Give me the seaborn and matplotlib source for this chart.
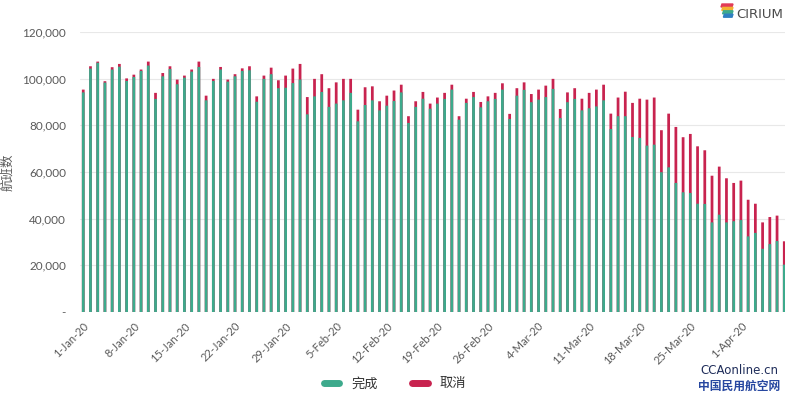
import numpy as np
import pandas as pd
import matplotlib
matplotlib.use("Agg")
import matplotlib.pyplot as plt
import seaborn as sns
from matplotlib.lines import Line2D
from matplotlib.patches import Polygon

# ---- data (thousands of flights per day, 1-Jan-20 .. 7-Apr-20) ----
completed = [94.1, 104.3, 106.8, 98.3, 103.9, 105.1, 99.0, 100.7, 103.3, 105.6,
             91.3, 101.0, 104.1, 97.6, 100.4, 103.0, 105.0, 90.7, 99.0, 103.9,
             98.7, 101.0, 103.3, 103.6, 90.1, 99.9, 101.9, 95.9, 96.1, 98.1,
             99.6, 84.7, 92.4, 94.3, 87.9, 89.3, 90.7, 93.9, 81.7, 88.7,
             90.7, 86.4, 88.4, 90.4, 94.1, 81.0, 87.9, 91.4, 87.1, 89.3,
             91.3, 95.3, 82.4, 89.6, 92.1, 87.7, 90.3, 91.3, 95.3, 82.7,
             92.7, 95.2, 89.9, 91.0, 92.1, 95.6, 83.1, 89.9, 91.3, 86.4,
             87.3, 88.1, 90.7, 78.4, 83.9, 83.9, 75.0, 74.6, 71.3, 71.7,
             59.9, 62.0, 55.3, 51.3, 51.0, 46.4, 46.3, 38.4, 41.7, 38.4,
             38.9, 39.4, 32.4, 33.9, 27.1, 29.1, 30.4, 20.3]
cancelled = [1.2, 1.0, 0.5, 0.6, 1.0, 1.2, 1.1, 1.0, 0.6, 1.7,
             2.6, 1.4, 1.2, 2.0, 0.9, 0.9, 2.3, 2.0, 0.9, 1.1,
             0.9, 0.9, 1.1, 1.7, 2.3, 1.4, 2.8, 3.4, 5.2, 6.2,
             6.7, 7.4, 7.5, 7.6, 8.0, 9.1, 9.2, 6.0, 5.0, 7.6,
             6.0, 3.9, 4.3, 4.5, 3.3, 2.9, 2.4, 2.9, 2.2, 2.6,
             2.6, 2.1, 1.5, 1.8, 2.2, 2.3, 2.1, 2.6, 2.7, 2.2,
             3.2, 3.2, 3.5, 4.3, 4.9, 4.3, 3.9, 4.2, 4.6, 5.0,
             6.6, 7.2, 6.7, 6.6, 8.0, 10.5, 14.6, 16.8, 19.7, 20.2,
             18.0, 23.0, 24.0, 23.6, 25.3, 24.6, 23.0, 20.0, 20.6, 18.9,
             16.4, 16.9, 15.7, 12.5, 11.3, 11.6, 10.9, 10.0]

tick_labels = ["1-Jan-20", "8-Jan-20", "15-Jan-20", "22-Jan-20", "29-Jan-20",
               "5-Feb-20", "12-Feb-20", "19-Feb-20", "26-Feb-20", "4-Mar-20",
               "11-Mar-20", "18-Mar-20", "25-Mar-20", "1-Apr-20"]
yticks = [0, 20000, 40000, 60000, 80000, 100000, 120000]
ytick_labels = ["-", "20,000", "40,000", "60,000", "80,000", "100,000", "120,000"]
series_names = ["完成", "取消"]

GREEN = "#3DAA8C"
RED = "#C8234F"
GRAY = "#595959"

dates = pd.date_range("2020-01-01", periods=len(completed))
day_labels = [f"{d.day}-{d.strftime('%b')}-20" for d in dates]

df = pd.DataFrame({
    "day": day_labels,
    "completed": np.array(completed) * 1000,
    "cancelled": np.array(cancelled) * 1000,
})
df["total"] = df["completed"] + df["cancelled"]

sns.set_theme(style="white")
plt.rcParams["font.family"] = ["Lato", "Noto Sans CJK SC", "DejaVu Sans"]

fig = plt.figure(figsize=(8, 3.95), dpi=100)
ax = fig.add_axes([0.1, 0.2101, 0.88125, 0.709])

sns.barplot(data=df, x="day", y="total", color=RED, width=0.38,
            saturation=1, errorbar=None, linewidth=0, ax=ax)
sns.barplot(data=df, x="day", y="completed", color=GREEN, width=0.38,
            saturation=1, errorbar=None, linewidth=0, ax=ax)
for p in ax.patches:
    p.set_snap(False)

ax.set_xlim(-0.45, 97.1)
ax.set_ylim(0, 120000)
ax.set_yticks(yticks)
ax.set_yticklabels(ytick_labels)
ax.set_xticks([day_labels.index(t) for t in tick_labels])
ax.set_xticklabels(tick_labels, rotation=45, ha="right", rotation_mode="anchor")
ax.tick_params(axis="y", length=0, pad=10, labelsize=8.5, labelcolor=GRAY)
ax.tick_params(axis="x", length=0, pad=6, labelsize=8, labelcolor=GRAY)
ax.yaxis.grid(True, color="#E8E8E8", lw=0.8)
ax.set_axisbelow(True)
for s in ax.spines.values():
    s.set_visible(False)
ax.set_xlabel("")
ax.set_ylabel("航班数", fontsize=9, color=GRAY)
ax.yaxis.set_label_coords(-0.095, 0.5)

handles = [Line2D([0], [0], color=GREEN, lw=5), Line2D([0], [0], color=RED, lw=5)]
fig.legend(handles, series_names, loc="center", bbox_to_anchor=(395 / 800, 1 - 383 / 395),
           ncol=2, frameon=False, handlelength=1.2, columnspacing=2.6,
           handletextpad=0.9, fontsize=9.5, labelcolor="#333333")

# CIRIUM logo
fig.text(736 / 800, 1 - 14 / 395, "CIRIUM", fontsize=9.5, color="#4a4a4a",
         family="DejaVu Sans", va="center", ha="left")
logo_cols = ["#E23B57", "#F2B233", "#3DAA8C", "#2F7FC1"]
for i, c in enumerate(logo_cols):
    y0 = 4 + i * 3.4
    pts = [(722 + i * 0.8, y0), (733, y0), (732, y0 + 3), (721 + i * 0.8, y0 + 3)]
    pts = [(x / 800, 1 - y / 395) for x, y in pts]
    fig.patches.append(Polygon(pts, closed=True, color=c, transform=fig.transFigure))

# watermark
fig.text(739 / 800, 1 - 370 / 395, "CCAonline.cn", fontsize=8.5, color="#1F2D5A",
         family="DejaVu Sans", ha="center", va="center")
fig.text(739 / 800, 1 - 386 / 395, "中国民用航空网", fontsize=8.5, color="#2747A0",
         family=["Noto Sans CJK SC", "DejaVu Sans"], weight="bold", ha="center", va="center")

fig.savefig("out.png", dpi=100)
